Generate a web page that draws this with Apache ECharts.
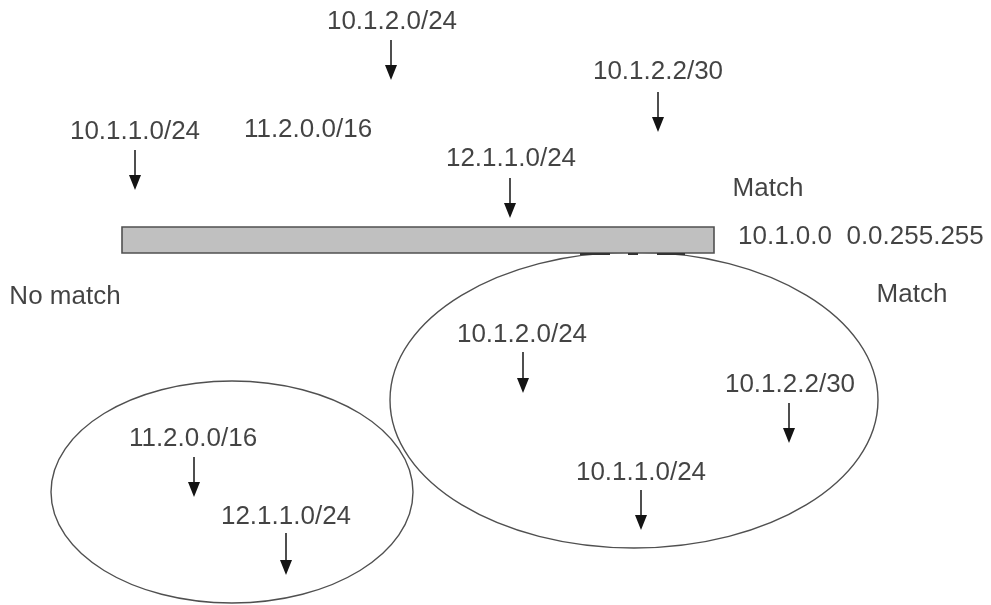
<!DOCTYPE html>
<html>
<head>
<meta charset="utf-8">
<script src="https://cdn.jsdelivr.net/npm/echarts@6/dist/echarts.min.js"></script>
<style>
html,body{margin:0;padding:0;background:#fff;}
#main{width:991px;height:605px;}
</style>
</head>
<body>
<div id="main"></div>
<script>
// diagram laid out on a 991 x 605 value grid (y grows downward)
var label_text = ['10.1.2.0/24','10.1.2.2/30','10.1.1.0/24','11.2.0.0/16','12.1.1.0/24','Match',
	'No match','Match','10.1.2.0/24','10.1.2.2/30','11.2.0.0/16','10.1.1.0/24','12.1.1.0/24'];
var label_x = [392,658,135,308,511,768,65,912,522,790,193,641,286];
var label_y = [22,72,132,130,159,189,297,295,335,385,439,473,517];

// access list entry written to the right of the bar
var acl_text = '10.1.0.0  0.0.255.255';
var acl_x = 738;
var acl_y = 237;

// arrows: x, start y, tip y
var arrow_x = [391,658,135,510,523,789,194,641,286];
var arrow_y0 = [40,92,150,178,352,403,457,490,533];
var arrow_y1 = [80,132,190,218,393,443,497,530,575];

// the filter bar
var bar_x = [122,714];
var bar_y = [227,253];

// small dark marks under the bar where the ellipse touches it
var tick_x0 = [580,628,657];
var tick_x1 = [610,638,685];
var tick_y = 254;

// match / no match groups
var ell_cx = [634,232];
var ell_cy = [400,492];
var ell_rx = [244,181];
var ell_ry = [148,111];

var font = "'Liberation Sans', Arial, sans-serif";
var ink = '#141414';

var myChart = echarts.init(document.getElementById('main'), null, {renderer:'canvas'});

var label_data = [];
for (var i = 0; i < label_text.length; i++) {
	label_data.push([label_x[i], label_y[i], label_text[i]]);
}
var arrow_data = [];
for (var i = 0; i < arrow_x.length; i++) {
	arrow_data.push([arrow_x[i], arrow_y0[i], arrow_y1[i]]);
}
var ell_data = [];
for (var i = 0; i < ell_cx.length; i++) {
	ell_data.push([ell_cx[i], ell_cy[i], ell_rx[i], ell_ry[i]]);
}
var tick_data = [];
for (var i = 0; i < tick_x0.length; i++) {
	tick_data.push([tick_x0[i], tick_x1[i], tick_y]);
}

myChart.setOption({
	animation: false,
	grid: {left:0, right:0, top:0, bottom:0},
	xAxis: {type:'value', min:0, max:991, show:false},
	yAxis: {type:'value', min:0, max:605, inverse:true, show:false},
	series: [
	{
		// ellipses
		type: 'custom',
		data: ell_data,
		renderItem: function(params, api){
			var c = api.coord([api.value(0), api.value(1)]);
			var e = api.coord([api.value(0) + api.value(2), api.value(1) + api.value(3)]);
			return {
				type: 'ellipse',
				shape: {cx:c[0], cy:c[1], rx:e[0]-c[0], ry:e[1]-c[1]},
				style: {fill:'none', stroke:'#505050', lineWidth:1.4}
			};
		}
	},
	{
		// grey bar
		type: 'custom',
		data: [[bar_x[0], bar_y[0], bar_x[1], bar_y[1]]],
		renderItem: function(params, api){
			var a = api.coord([api.value(0), api.value(1)]);
			var b = api.coord([api.value(2), api.value(3)]);
			return {
				type: 'rect',
				shape: {x:a[0], y:a[1], width:b[0]-a[0], height:b[1]-a[1]},
				style: {fill:'#c0c0c0', stroke:'#505050', lineWidth:1.6}
			};
		}
	},
	{
		type: 'custom',
		data: tick_data,
		renderItem: function(params, api){
			var a = api.coord([api.value(0), api.value(2)]);
			var b = api.coord([api.value(1), api.value(2)]);
			return {
				type: 'line',
				shape: {x1:a[0], y1:a[1], x2:b[0], y2:b[1]},
				style: {stroke:'#333', lineWidth:2}
			};
		}
	},
	{
		// arrows
		type: 'custom',
		data: arrow_data,
		renderItem: function(params, api){
			var a = api.coord([api.value(0), api.value(1)]);
			var b = api.coord([api.value(0), api.value(2)]);
			return {
				type: 'group',
				children: [
					{type:'line', shape:{x1:a[0], y1:a[1], x2:b[0], y2:b[1]-8},
						style:{stroke:ink, lineWidth:1.5}},
					{type:'polygon', shape:{points:[[b[0]-6,b[1]-15],[b[0]+6,b[1]-15],[b[0],b[1]]]},
						style:{fill:ink}}
				]
			};
		}
	},
	{
		// labels
		type: 'scatter',
		symbolSize: 0,
		data: label_data,
		label: {
			show: true,
			position: 'inside',
			formatter: function(p){ return p.data[2]; },
			fontFamily: font,
			fontSize: 26,
			color: ink
		}
	},
	{
		type: 'scatter',
		symbolSize: 0,
		data: [[acl_x, acl_y, acl_text]],
		label: {
			show: true,
			position: 'inside',
			align: 'left',
			formatter: function(p){ return p.data[2]; },
			fontFamily: font,
			fontSize: 26,
			color: ink
		}
	}
	]
});
</script>
</body>
</html>
